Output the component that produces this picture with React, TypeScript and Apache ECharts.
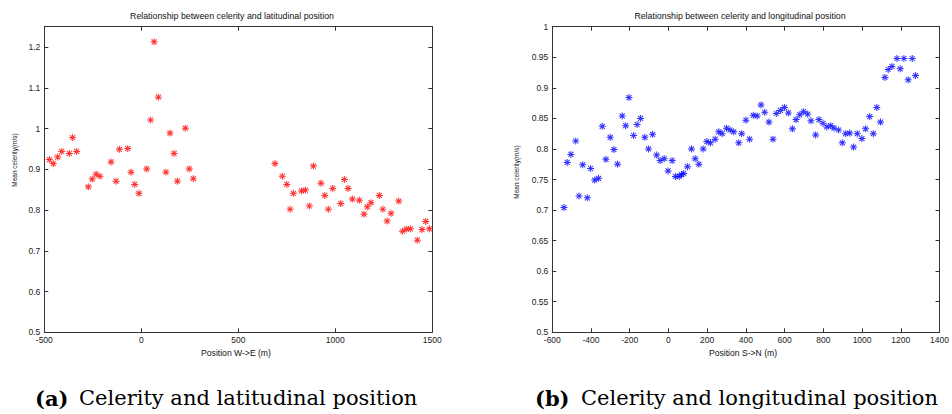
import React, { useEffect, useRef } from "react";
import * as echarts from "echarts";

// Left chart: celerity vs latitudinal position (W->E)
const latX = [-474, -454, -431, -410, -371, -354, -333, -273, -253, -233, -213, -156, -130, -113, -70, -53, -34, -12, 28, 48, 66, 88, 127, 148, 169, 186, 227, 247, 268,
  689, 727, 750, 767, 784, 826, 846, 866, 887, 926, 946, 964, 987, 1028, 1047, 1066, 1088, 1124, 1148, 1165, 1184, 1227, 1245, 1267, 1287, 1327, 1346, 1365, 1387, 1423, 1447, 1466, 1485];
const latY = [0.924, 0.914, 0.930, 0.944, 0.939, 0.978, 0.944, 0.857, 0.876, 0.888, 0.883, 0.918, 0.871, 0.949, 0.951, 0.893, 0.863, 0.841, 0.901, 1.021, 1.213, 1.077, 0.893, 0.989, 0.939, 0.871, 1.001, 0.901, 0.877,
  0.914, 0.883, 0.863, 0.802, 0.841, 0.847, 0.849, 0.810, 0.908, 0.866, 0.836, 0.802, 0.853, 0.816, 0.875, 0.853, 0.827, 0.824, 0.790, 0.808, 0.818, 0.836, 0.802, 0.773, 0.792, 0.822, 0.748, 0.753, 0.754, 0.726, 0.752, 0.772, 0.754];

// Right chart: celerity vs longitudinal position (S->N)
const lonX = [-540, -523, -504, -479, -462, -443, -419, -402, -381, -361, -342, -323, -301, -282, -263, -239, -221, -204, -180, -162, -144, -122, -103, -82, -61, -43, -22, -2, 19, 36, 55, 67, 79, 98, 119, 138, 157, 179, 198, 217, 241, 260, 277, 300, 318, 337, 363, 378, 400, 419, 438, 458,
  478, 497, 519, 540, 557, 578, 599, 619, 640, 659, 678, 698, 719, 736, 760, 777, 798, 818, 838, 855, 879, 898, 915, 936, 956, 975, 999, 1018, 1039, 1058, 1076, 1095, 1118, 1135, 1154, 1180, 1197, 1216, 1238, 1259, 1276];
const lonY = [0.704, 0.778, 0.791, 0.813, 0.723, 0.774, 0.720, 0.768, 0.749, 0.752, 0.837, 0.783, 0.819, 0.799, 0.775, 0.854, 0.838, 0.884, 0.822, 0.840, 0.850, 0.819, 0.800, 0.824, 0.790, 0.781, 0.784, 0.764, 0.781, 0.755, 0.755, 0.758, 0.760, 0.771, 0.800, 0.784, 0.775, 0.800, 0.812, 0.810, 0.816, 0.828, 0.825, 0.834, 0.831, 0.828, 0.810, 0.825, 0.847, 0.816, 0.855, 0.854,
  0.872, 0.860, 0.844, 0.816, 0.858, 0.863, 0.868, 0.859, 0.833, 0.848, 0.856, 0.861, 0.857, 0.846, 0.823, 0.848, 0.842, 0.836, 0.838, 0.834, 0.831, 0.810, 0.825, 0.826, 0.803, 0.825, 0.817, 0.833, 0.853, 0.825, 0.868, 0.844, 0.917, 0.930, 0.935, 0.948, 0.931, 0.948, 0.913, 0.948, 0.920];

const titles = ["Relationship between celerity and latitudinal position", "Relationship between celerity and longitudinal position"];
const xNames = ["Position W->E (m)", "Position S->N (m)"];
const yName = "Mean celerity(m/s)";
const captionTags = ["(a)", "(b)"];
const captionTexts = ["Celerity and latitudinal position", "Celerity and longitudinal position"];

const ASTERISK =
  "path://M6 0H8V14H6Z M0 6H14V8H0Z M2.71 1.29L12.71 11.29L11.29 12.71L1.29 2.71Z M11.29 1.29L12.71 2.71L2.71 12.71L1.29 11.29Z";

const AX = "#333";
const FONT = "Liberation Sans, Arial, sans-serif";

function mkAxis(gridIndex: number, position: string, min: number, max: number, interval: number, labels: boolean, isY: boolean) {
  return {
    type: "value",
    gridIndex,
    position,
    min,
    max,
    interval,
    axisLine: { show: true, onZero: false, lineStyle: { color: AX, width: 1 } },
    axisTick: { show: true, inside: true, length: 4, lineStyle: { color: AX } },
    axisLabel: {
      show: labels,
      color: "#222",
      fontFamily: FONT,
      fontSize: 8.5,
      margin: isY ? 4 : 3,
      showMaxLabel: isY ? (max === 1 ? true : false) : true,
      formatter: (v: number) => String(Math.round(v * 1000) / 1000),
    },
    splitLine: { show: false },
  };
}

export default function App() {
  const ref = useRef<HTMLDivElement>(null);
  useEffect(() => {
    if (!ref.current) return;
    const chart = echarts.init(ref.current, null, { renderer: "svg" });
    const grids = [
      { left: 44.3, top: 26.7, width: 388, height: 305.6 },
      { left: 552.3, top: 26.7, width: 387.7, height: 305.6 },
    ];
    const capFont = "'DejaVu Serif', serif";
    const option = {
      animation: false,
      backgroundColor: "#fff",
      grid: grids.map((g) => ({ ...g, containLabel: false, show: false })),
      xAxis: [
        mkAxis(0, "bottom", -500, 1500, 500, true, false),
        mkAxis(0, "top", -500, 1500, 500, false, false),
        mkAxis(1, "bottom", -600, 1400, 200, true, false),
        mkAxis(1, "top", -600, 1400, 200, false, false),
      ],
      yAxis: [
        mkAxis(0, "left", 0.5, 1.25, 0.1, true, true),
        mkAxis(0, "right", 0.5, 1.25, 0.1, false, true),
        mkAxis(1, "left", 0.5, 1, 0.05, true, true),
        mkAxis(1, "right", 0.5, 1, 0.05, false, true),
      ],
      series: [
        {
          type: "scatter",
          xAxisIndex: 0,
          yAxisIndex: 0,
          symbol: ASTERISK,
          symbolSize: 7,
          itemStyle: { color: "#ff0000" },
          data: latX.map((x, i) => [x, latY[i]]),
        },
        {
          type: "scatter",
          xAxisIndex: 2,
          yAxisIndex: 2,
          symbol: ASTERISK,
          symbolSize: 7,
          itemStyle: { color: "#0000ff" },
          data: lonX.map((x, i) => [x, lonY[i]]),
        },
      ],
      graphic: [
        { type: "text", x: 232, y: 16, style: { text: titles[0], font: `8.8px ${FONT}`, fill: "#111", align: "center", verticalAlign: "middle" } },
        { type: "text", x: 740, y: 16, style: { text: titles[1], font: `8.8px ${FONT}`, fill: "#111", align: "center", verticalAlign: "middle" } },
        { type: "text", x: 236, y: 353, style: { text: xNames[0], font: `8.6px ${FONT}`, fill: "#111", align: "center", verticalAlign: "middle" } },
        { type: "text", x: 743, y: 353, style: { text: xNames[1], font: `8.6px ${FONT}`, fill: "#111", align: "center", verticalAlign: "middle" } },
        { type: "text", x: 14, y: 160, rotation: Math.PI / 2, style: { text: yName, font: `6.5px ${FONT}`, fill: "#111", align: "center", verticalAlign: "middle" } },
        { type: "text", x: 516, y: 172, rotation: Math.PI / 2, style: { text: yName, font: `6.5px ${FONT}`, fill: "#111", align: "center", verticalAlign: "middle" } },
        { type: "text", x: 35, y: 398, style: { text: captionTags[0], font: `bold 21px ${capFont}`, fill: "#000", align: "left", verticalAlign: "middle" } },
        { type: "text", x: 79, y: 398, style: { text: captionTexts[0], font: `21px ${capFont}`, fill: "#000", align: "left", verticalAlign: "middle" } },
        { type: "text", x: 535, y: 398, style: { text: captionTags[1], font: `bold 21px ${capFont}`, fill: "#000", align: "left", verticalAlign: "middle" } },
        { type: "text", x: 581, y: 398, style: { text: captionTexts[1], font: `21px ${capFont}`, fill: "#000", align: "left", verticalAlign: "middle" } },
      ],
    };
    chart.setOption(option as any);
    return () => chart.dispose();
  }, []);
  return <div ref={ref} style={{ position: "fixed", left: 0, top: 0, width: 952, height: 414 }} />;
}
